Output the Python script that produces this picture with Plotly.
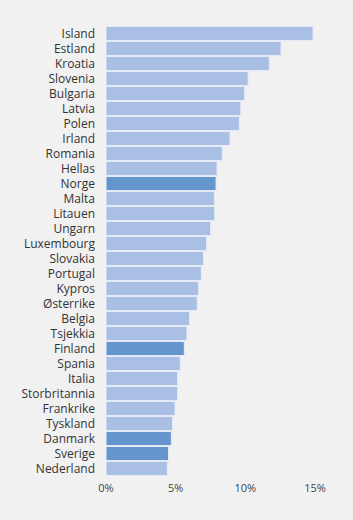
import plotly.graph_objects as go

countries = ["Island", "Estland", "Kroatia", "Slovenia", "Bulgaria", "Latvia", "Polen",
             "Irland", "Romania", "Hellas", "Norge", "Malta", "Litauen", "Ungarn",
             "Luxembourg", "Slovakia", "Portugal", "Kypros", "Østerrike", "Belgia",
             "Tsjekkia", "Finland", "Spania", "Italia", "Storbritannia", "Frankrike",
             "Tyskland", "Danmark", "Sverige", "Nederland"]
values = [14.86, 12.56, 11.72, 10.2, 9.95, 9.67, 9.57, 8.9, 8.35, 7.97, 7.9, 7.78, 7.8,
          7.51, 7.22, 7.0, 6.84, 6.65, 6.55, 6.0, 5.81, 5.62, 5.33, 5.14, 5.14, 4.95,
          4.78, 4.69, 4.49, 4.4]
nordic = ["Norge", "Finland", "Danmark", "Sverige"]
tick_vals = [0, 5, 10, 15]
tick_text = ["0%", "5%", "10%", "15%"]

colors = ["#6495cd" if c in nordic else "#a9bfe4" for c in countries]

fig = go.Figure(go.Bar(
    x=values, y=countries, orientation="h",
    marker=dict(color=colors, line=dict(color="#e6ecf7", width=1)),
    hoverinfo="x+y",
))
fig.update_layout(
    width=353, height=520,
    margin=dict(l=106, r=38, t=26, b=44),
    paper_bgcolor="#f1f1f1", plot_bgcolor="#f1f1f1",
    bargap=0.06,
    font=dict(family="Open Sans", size=12, color="#333333"),
    showlegend=False,
)
fig.update_yaxes(autorange="reversed", showgrid=False, zeroline=False,
                 ticks="", ticklabelstandoff=10, tickfont=dict(size=12, color="#333333"))
fig.update_xaxes(range=[0, 15], tickvals=tick_vals, ticktext=tick_text, showgrid=False,
                 zeroline=False, showline=False, ticks="", ticklabelstandoff=4,
                 tickfont=dict(size=11, color="#444444"))
fig.write_html("out.html")
